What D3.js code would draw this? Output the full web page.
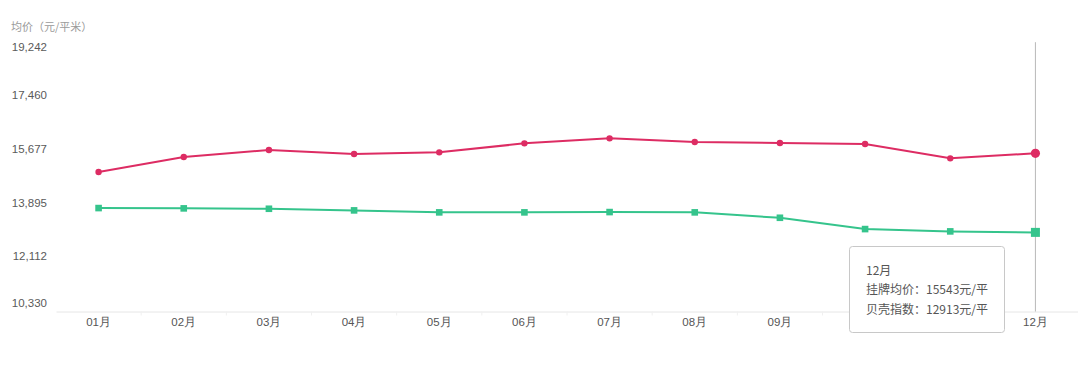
<!DOCTYPE html>
<html>
<head>
<meta charset="utf-8">
<script src="https://cdn.jsdelivr.net/npm/d3@7"></script>
<style>
  html, body { margin: 0; padding: 0; background: #fff; }
  svg { display: block; font-family: "Noto Sans CJK SC", "Liberation Sans", Arial, sans-serif; }
</style>
</head>
<body>
<svg id="chart" width="1078" height="375"></svg>
<script>
const months = ["01月","02月","03月","04月","05月","06月","07月","08月","09月","10月","11月","12月"];
const listingPrice = [14920,15420,15653,15520,15576,15876,16042,15919,15886,15853,15377,15543];
const beikeIndex   = [13722,13712,13699,13645,13579,13579,13589,13579,13399,13023,12946,12913];
const yTicks = [10330,12112,13895,15677,17460,19242];
const yTitle = "均价（元/平米）";
const seriesNames = ["挂牌均价","贝壳指数"];
const activeIndex = 11;

const svg = d3.select("#chart");
const W = 1078, H = 375;
const plot = {left: 56, right: 1078, top: 42.2, bottom: 310};

const x = d3.scaleBand().domain(months).range([plot.left, plot.right]).padding(0);
const y = d3.scaleLinear().domain([yTicks[0], yTicks[yTicks.length-1]]).range([plot.bottom, plot.top]);
const cx = d => x(d) + x.bandwidth()/2;

const red = "#dd2c63", green = "#35c48c";

// Y title
svg.append("text").attr("x", 11).attr("y", 27).attr("dy", "0.35em")
  .attr("font-size", 11).attr("fill", "#9a9a9a").text(yTitle);

// Y axis labels
const yAxis = d3.axisLeft(y).tickValues(yTicks).tickFormat(d3.format(",")).tickSize(0).tickPadding(0);
const yg = svg.append("g").attr("transform", `translate(47,0)`).call(yAxis);
yg.select(".domain").remove();
yg.selectAll("text").attr("font-size", 11.5).attr("fill", "#5a5a5a")
  .attr("font-family", "'Liberation Sans', Arial, sans-serif")
  .attr("dy", (d, i) => i === 0 ? "-0.32em" : (i === yTicks.length-1 ? "0.72em" : "0.28em"));

// X axis
const xAxis = d3.axisBottom(x).tickSize(0).tickPadding(0);
const xg = svg.append("g").attr("transform", `translate(0,${plot.bottom + 1.5})`).call(xAxis);
xg.select(".domain").attr("stroke", "#e6e6e6");
xg.selectAll("text").attr("font-size", 11.5).attr("fill", "#555").attr("dy", "1.3em")
  .style("visibility", (d, i) => (i === 9 || i === 10) ? "hidden" : "visible");
// faint band boundary ticks
xg.selectAll(".bt").data(months.slice(1)).enter().append("line")
  .attr("x1", d => x(d)).attr("x2", d => x(d)).attr("y1", 0).attr("y2", 4)
  .attr("stroke", "#f0f0f0");

// crosshair
svg.append("line")
  .attr("x1", cx(months[activeIndex])).attr("x2", cx(months[activeIndex]))
  .attr("y1", plot.top).attr("y2", plot.bottom + 1.5)
  .attr("stroke", "#b8b8b8").attr("stroke-width", 1);

const line = d3.line().x((d, i) => cx(months[i])).y(d => y(d));

// red series
svg.append("path").datum(listingPrice).attr("d", line)
  .attr("fill", "none").attr("stroke", red).attr("stroke-width", 2);
svg.selectAll(".rp").data(listingPrice).enter().append("circle")
  .attr("cx", (d, i) => cx(months[i])).attr("cy", d => y(d))
  .attr("r", (d, i) => i === activeIndex ? 4.6 : 3.2).attr("fill", red);

// green series
svg.append("path").datum(beikeIndex).attr("d", line)
  .attr("fill", "none").attr("stroke", green).attr("stroke-width", 2);
svg.selectAll(".gp").data(beikeIndex).enter().append("rect")
  .attr("x", (d, i) => cx(months[i]) - (i === activeIndex ? 4.5 : 3.3))
  .attr("y", (d, i) => y(d) - (i === activeIndex ? 4.5 : 3.3))
  .attr("width", (d, i) => i === activeIndex ? 9 : 6.6)
  .attr("height", (d, i) => i === activeIndex ? 9 : 6.6)
  .attr("fill", green);

// tooltip
const tip = svg.append("g").attr("transform", "translate(849.5,246.5)");
tip.append("rect").attr("width", 155).attr("height", 86).attr("rx", 3)
  .attr("fill", "#fff").attr("stroke", "#c8c8c8").attr("stroke-width", 1);
const tipLines = [
  months[activeIndex],
  `${seriesNames[0]}：${listingPrice[activeIndex]}元/平`,
  `${seriesNames[1]}：${beikeIndex[activeIndex]}元/平`
];
tip.selectAll("text").data(tipLines).enter().append("text")
  .attr("x", 16.5).attr("y", (d, i) => 24.5 + i * 19.2).attr("dy", "0.35em")
  .attr("font-size", 12).attr("fill", "#555").text(d => d);
</script>
</body>
</html>
